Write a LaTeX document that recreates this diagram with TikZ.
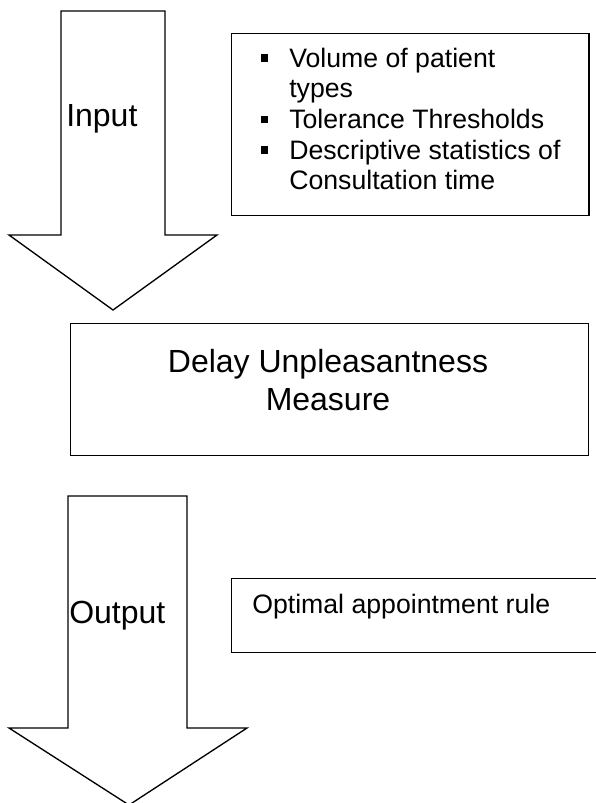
\documentclass[tikz,border=0pt]{standalone}
\usepackage{fontspec}
\setmainfont{Liberation Sans}
\usepackage{array}
\newcommand{\sqbullet}{\rule[4.1pt]{5.3pt}{5.3pt}}
\tikzset{
  bigarrow/.style={draw=black, line width=1pt, fill=white, line join=miter},
  frame/.style={draw=black, line width=1pt, inner sep=0pt},
  bigfont/.style={font=\fontsize{24pt}{28pt}\selectfont, inner sep=0pt},
  smallfont/.style={font=\fontsize{20pt}{23pt}\selectfont, inner sep=0pt}
}
\begin{document}
\begin{tikzpicture}[x=0.75pt,y=0.75pt,yscale=-1]
\useasboundingbox (0,0) rectangle (596,803);

%Input arrow
\draw [bigarrow] (61,11) -- (165,11) -- (165,235) -- (217,235) -- (113,310) -- (9,235) -- (61,235) -- cycle ;
\node [bigfont, anchor=base west] (input) at (66,126) {Input};

%Input list box
\node [frame, anchor=north west, minimum width=268pt, minimum height=136.5pt] (inputbox) at (231,33) {};
\node [smallfont, anchor=base west] (inputlist) at (261,67) {%
  \begin{tabular}[t]{@{}p{21pt}@{}l@{}}
    \sqbullet & Volume of patient\\
              & types\\
    \sqbullet & Tolerance Thresholds\\
    \sqbullet & Descriptive statistics of\\
              & Consultation time
  \end{tabular}};

%Measure box
\node [frame, anchor=north west, minimum width=388.5pt, minimum height=99pt] (measurebox) at (70,323) {};
\node [bigfont, anchor=base, align=center] (measure) at (328,410) {Delay Unpleasantness\\Measure};

%Output arrow
\draw [bigarrow] (68,496) -- (187,496) -- (187,728) -- (247,728) -- (129,805) -- (9,728) -- (68,728) -- cycle ;
\node [bigfont, anchor=base west] (output) at (69,623) {Output};

%Output box
\node [frame, anchor=north west, minimum width=282pt, minimum height=55.5pt] (outputbox) at (231,578) {};
\node [smallfont, anchor=base west] (outputtext) at (252,613) {Optimal appointment rule};

\end{tikzpicture}
\end{document}
